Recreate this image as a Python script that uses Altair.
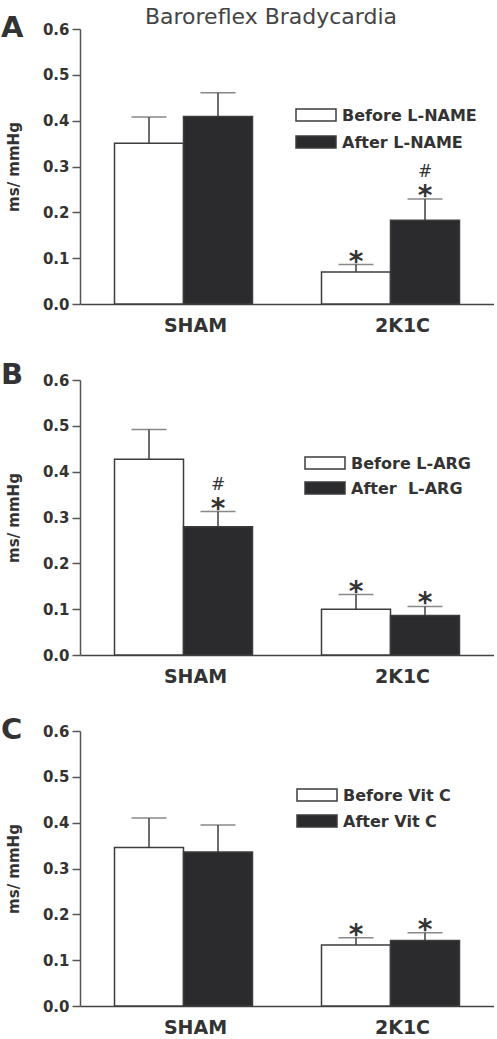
import altair as alt
import pandas as pd

FONT = "DejaVu Sans"
INK = "#333333"
EDGE = "#3c3c3c"
DARK = "#2b2b2e"

groups = ["SHAM", "2K1C"]
series = ["Before", "After"]
y_ticks = [0.0, 0.1, 0.2, 0.3, 0.4, 0.5, 0.6]

# Panel A: L-NAME
a_before = [0.351, 0.070]
a_before_sem = [0.057, 0.016]
a_after = [0.409, 0.183]
a_after_sem = [0.052, 0.046]
a_before_marks = ["", "*"]
a_after_marks = ["", "*#"]
a_labels = ["Before L-NAME", "After L-NAME"]

# Panel B: L-ARG
b_before = [0.427, 0.100]
b_before_sem = [0.065, 0.032]
b_after = [0.280, 0.086]
b_after_sem = [0.033, 0.020]
b_before_marks = ["", "*"]
b_after_marks = ["*#", "*"]
b_labels = ["Before L-ARG", "After \u00a0L-ARG"]

# Panel C: Vitamin C
c_before = [0.346, 0.133]
c_before_sem = [0.064, 0.016]
c_after = [0.336, 0.143]
c_after_sem = [0.059, 0.017]
c_before_marks = ["", "*"]
c_after_marks = ["", "*"]
c_labels = ["Before Vit C", "After Vit C"]

title_text = "Baroreflex Bradycardia"
y_title = "ms/ mmHg"

W, H = 414, 275


def text_layer(txt, x, y, size, bold=True, align="left", color=INK):
    return alt.Chart(pd.DataFrame({"t": [txt]})).mark_text(
        font=FONT, fontSize=size, fontWeight="bold" if bold else "normal",
        align=align, baseline="alphabetic", color=color,
    ).encode(x=alt.value(x), y=alt.value(y), text="t:N")


def swatch(x, y, fill):
    return alt.Chart(pd.DataFrame({"k": [0]})).mark_rect(
        fill=fill, stroke=EDGE, strokeWidth=1.5
    ).encode(x=alt.value(x), x2=alt.value(x + 40), y=alt.value(y), y2=alt.value(y + 12))


def panel(before, before_sem, after, after_sem, before_marks, after_marks,
          labels, letter, letter_y, leg_x, leg_y, leg_gap, title=None):
    df = pd.DataFrame({
        "group": groups * 2,
        "series": [series[0]] * 2 + [series[1]] * 2,
        "value": before + after,
        "sem": before_sem + after_sem,
        "marks": before_marks + after_marks,
    })
    df["top"] = df["value"] + df["sem"]

    x = alt.X("group:N", sort=groups, title=None,
              scale=alt.Scale(paddingInner=1 / 3, paddingOuter=1 / 6))
    xo = alt.XOffset("series:N", sort=series, scale=alt.Scale(domain=series))
    yscale = alt.Scale(domain=[0, 0.6], nice=False, zero=True)

    base = alt.Chart(df)
    bars = base.mark_bar(stroke=EDGE, strokeWidth=1.5).encode(
        x=x, xOffset=xo,
        y=alt.Y("value:Q", scale=yscale, title=y_title),
        fill=alt.Fill("series:N", sort=series, legend=None,
                      scale=alt.Scale(domain=series, range=["white", DARK])),
    )
    err = base.mark_rule(color=EDGE, strokeWidth=1.5).encode(
        x=x, xOffset=xo,
        y=alt.Y("value:Q", scale=yscale, title=y_title), y2="top:Q",
    )
    caps = base.mark_tick(orient="horizontal", size=35, thickness=1.5, color="#555555").encode(
        x=x, xOffset=xo, y=alt.Y("top:Q", scale=yscale, title=y_title),
    )
    stars = base.transform_filter("indexof(datum.marks, '*') >= 0").mark_text(
        text="*", font=FONT, fontWeight="bold", fontSize=28, color=INK,
        baseline="alphabetic", dy=6,
    ).encode(x=x, xOffset=xo, y=alt.Y("top:Q", scale=yscale, title=y_title))
    hashes = base.transform_filter("indexof(datum.marks, '#') >= 0").mark_text(
        text="#", font=FONT, fontSize=17, color=INK,
        baseline="alphabetic", dy=-22,
    ).encode(x=x, xOffset=xo, y=alt.Y("top:Q", scale=yscale, title=y_title))

    layers = [
        bars, err, caps, stars, hashes,
        swatch(leg_x, leg_y, "white"),
        swatch(leg_x, leg_y + leg_gap, DARK),
        text_layer(labels[0], leg_x + 46, leg_y + 12, 16),
        text_layer(labels[1], leg_x + 46, leg_y + leg_gap + 12, 16),
        text_layer(letter, -79, letter_y, 29),
    ]
    if title:
        layers.append(text_layer(title, 191, -5, 22, bold=False, align="center", color="#444444"))
    return alt.layer(*layers).properties(width=W, height=H)


pa = panel(a_before, a_before_sem, a_after, a_after_sem, a_before_marks, a_after_marks,
           a_labels, "A", 8, 216, 80, 27, title=title_text)
pb = panel(b_before, b_before_sem, b_after, b_after_sem, b_before_marks, b_after_marks,
           b_labels, "B", 4, 225, 77, 25)
pc = panel(c_before, c_before_sem, c_after, c_after_sem, c_before_marks, c_after_marks,
           c_labels, "C", 8, 217, 58, 26)

chart = alt.vconcat(pa, pb, pc, spacing=76, bounds="flush").properties(
    padding={"left": 1, "top": 6, "right": 0, "bottom": 0}
).configure_view(stroke=None).configure_axis(grid=False).configure_axisX(
    labelAngle=0, ticks=False, tickSize=0, labelPadding=12, labelOffset=12,
    labelFont=FONT, labelFontWeight="bold", labelFontSize=19, labelColor=INK,
    domainColor="#444444", domainWidth=1.5,
).configure_axisY(
    values=y_ticks, format=".1f",
    domainColor="#555555", domainWidth=1.5, tickColor="#555555", tickWidth=1.5,
    tickSize=8, labelPadding=3,
    labelFont=FONT, labelFontWeight="bold", labelFontSize=15, labelColor=INK,
    titleFont=FONT, titleFontWeight="bold", titleFontSize=15, titleColor=INK,
    titlePadding=21,
)

chart.save("out.html", embed_options={"renderer": "svg", "actions": False})
